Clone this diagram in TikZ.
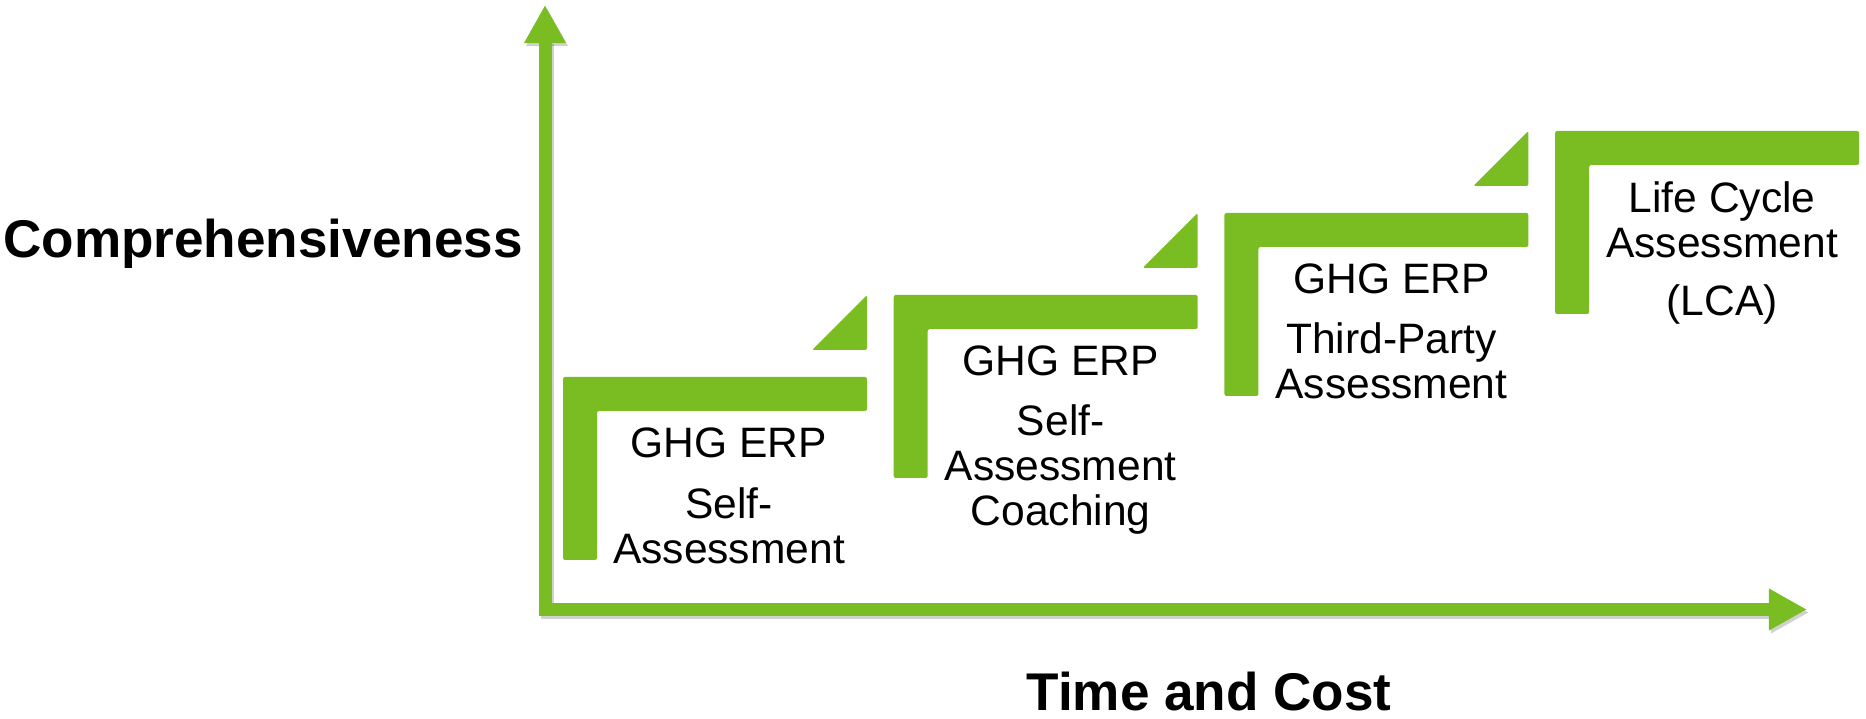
\documentclass[tikz,border=0pt]{standalone}
\usepackage{fontspec}
\setmainfont{Liberation Sans}
\usetikzlibrary{calc,arrows.meta}
\definecolor{ghggreen}{HTML}{7ABD23}

\tikzset{
	stepbar/.style={fill=ghggreen, rounded corners=0.6pt},
	steptext/.style={anchor=north, align=center, inner sep=0pt, font=\fontsize{12.1}{12.8}\selectfont},
	axislabel/.style={anchor=base, inner sep=0pt, font=\fontsize{15.1}{17}\selectfont\bfseries},
	axisline/.style={line width=0.13cm, line join=miter, {Triangle[length=0.38cm,width=0.39cm]}-{Triangle[length=0.38cm,width=0.39cm]}},
}

\begin{document}
\begin{tikzpicture}[x=0.01cm, y=-0.01cm]
		\useasboundingbox (0,0) rectangle (1866,719);
		\coordinate (origin) at (545,609.5);
		\coordinate (ytip) at (545,5);
		\coordinate (xtip) at (1807,609.5);
		%
		\draw[axisline, draw=black, opacity=0.18] ($(ytip)+(2,3)$) -- ($(origin)+(2,3)$) -- ($(xtip)+(2,3)$);
		\draw[axisline, draw=ghggreen] (ytip) -- (origin) -- (xtip);
		\node[axislabel] (ylabel) at (263,258) {Comprehensiveness};
		\node[axislabel] (xlabel) at (1209,711) {Time and Cost};
		%
		\coordinate (s1) at (563,377);
		\coordinate (s2) at ($(s1)+(330.7,-82)$);
		\coordinate (s3) at ($(s2)+(330.7,-82)$);
		\coordinate (s4) at ($(s3)+(330.7,-82)$);
		%
		\fill[stepbar] (s1) -- ++(304,0) -- ++(0,34) -- ++(-270,0) -- ++(0,149) -- ++(-34,0) -- cycle;
		\fill[stepbar] ($(s1)+(249,-27)$) -- ++(55,0) -- ++(0,-55) -- cycle;
		\node[steptext] (t1) at ($(s1)+(166,50)$) {GHG ERP\\[4.5pt]Self-\\Assessment};
		%
		\fill[stepbar] (s2) -- ++(304,0) -- ++(0,34) -- ++(-270,0) -- ++(0,149) -- ++(-34,0) -- cycle;
		\fill[stepbar] ($(s2)+(249,-27)$) -- ++(55,0) -- ++(0,-55) -- cycle;
		\node[steptext] (t2) at ($(s2)+(167,50)$) {GHG ERP\\[4.3pt]Self-\\Assessment\\Coaching};
		%
		\fill[stepbar] (s3) -- ++(304,0) -- ++(0,34) -- ++(-270,0) -- ++(0,149) -- ++(-34,0) -- cycle;
		\fill[stepbar] ($(s3)+(249,-27)$) -- ++(55,0) -- ++(0,-55) -- cycle;
		\node[steptext] (t3) at ($(s3)+(167,50)$) {GHG ERP\\[4.3pt]Third-Party\\Assessment};
		%
		\fill[stepbar] (s4) -- ++(304,0) -- ++(0,34) -- ++(-270,0) -- ++(0,149) -- ++(-34,0) -- cycle;
		\node[steptext] (t4) at ($(s4)+(167,50)$) {Life Cycle\\Assessment\\[3.7pt](LCA)};
	\end{tikzpicture}
\end{document}
